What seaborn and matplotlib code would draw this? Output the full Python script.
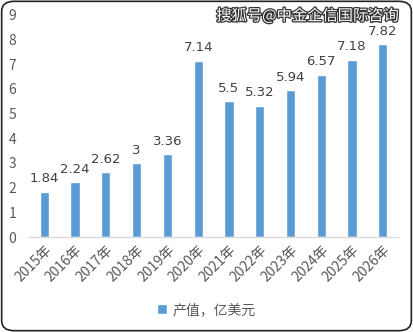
import matplotlib
matplotlib.use("Agg")
import matplotlib.pyplot as plt
import matplotlib.patheffects as pe
from matplotlib.patches import FancyBboxPatch
import seaborn as sns
import pandas as pd

years = ["2015年", "2016年", "2017年", "2018年", "2019年", "2020年",
         "2021年", "2022年", "2023年", "2024年", "2025年", "2026年"]
values = [1.84, 2.24, 2.62, 3, 3.36, 7.14, 5.5, 5.32, 5.94, 6.57, 7.18, 7.82]
value_labels = ["1.84", "2.24", "2.62", "3", "3.36", "7.14",
                "5.5", "5.32", "5.94", "6.57", "7.18", "7.82"]
series_name = "产值，亿美元"
y_ticks = list(range(0, 10))

sns.set_theme(style="white")
plt.rcParams["font.family"] = ["Noto Sans CJK SC", "DejaVu Sans"]

df = pd.DataFrame({"year": years, "value": values, "series": series_name})

fig = plt.figure(figsize=(4.13, 3.32), dpi=100)
ax = fig.add_axes([0.070, 0.286, 0.894, 0.670])

sns.barplot(data=df, x="year", y="value", hue="series",
            palette=["#5B9BD5"], width=0.3, saturation=1, ax=ax, legend=True)

ax.set_ylim(0, 9)
ax.set_yticks(y_ticks)
ax.set_xlim(-0.5, len(years) - 0.5)
ax.set_xlabel("")
ax.set_ylabel("")
for s in ["top", "right", "left"]:
    ax.spines[s].set_visible(False)
ax.spines["bottom"].set_color("#D9D9D9")
ax.spines["bottom"].set_linewidth(1)
ax.tick_params(axis="both", length=0, colors="#595959", labelsize=10)
ax.tick_params(axis="y", pad=9)
ax.tick_params(axis="x", pad=4)
plt.setp(ax.get_xticklabels(), rotation=45, ha="right", rotation_mode="anchor")

for i, (v, lab) in enumerate(zip(values, value_labels)):
    ax.text(i, v + 0.25, lab, ha="center", va="bottom", fontsize=9.5,
            color="#404040", family=["DejaVu Sans"])

leg = ax.legend(loc="center", frameon=False, fontsize=10, handlelength=0.7,
                handleheight=0.7, handletextpad=0.4)
leg.set_bbox_to_anchor((0.5, 0.066), transform=fig.transFigure)
for t in leg.get_texts():
    t.set_color("#595959")

fig.text(0.965, 0.952, "搜狐号@中金企信国际咨询", ha="right", va="center",
         fontsize=11, color="white",
         path_effects=[pe.withStroke(linewidth=1.8, foreground="#333333")])

border = FancyBboxPatch((0.004, 0.004), 0.992, 0.992,
                        boxstyle="round,pad=0,rounding_size=0.03",
                        transform=fig.transFigure, fill=False,
                        edgecolor="#222222", linewidth=1.2)
fig.patches.append(border)

fig.savefig("out.png", dpi=100)
